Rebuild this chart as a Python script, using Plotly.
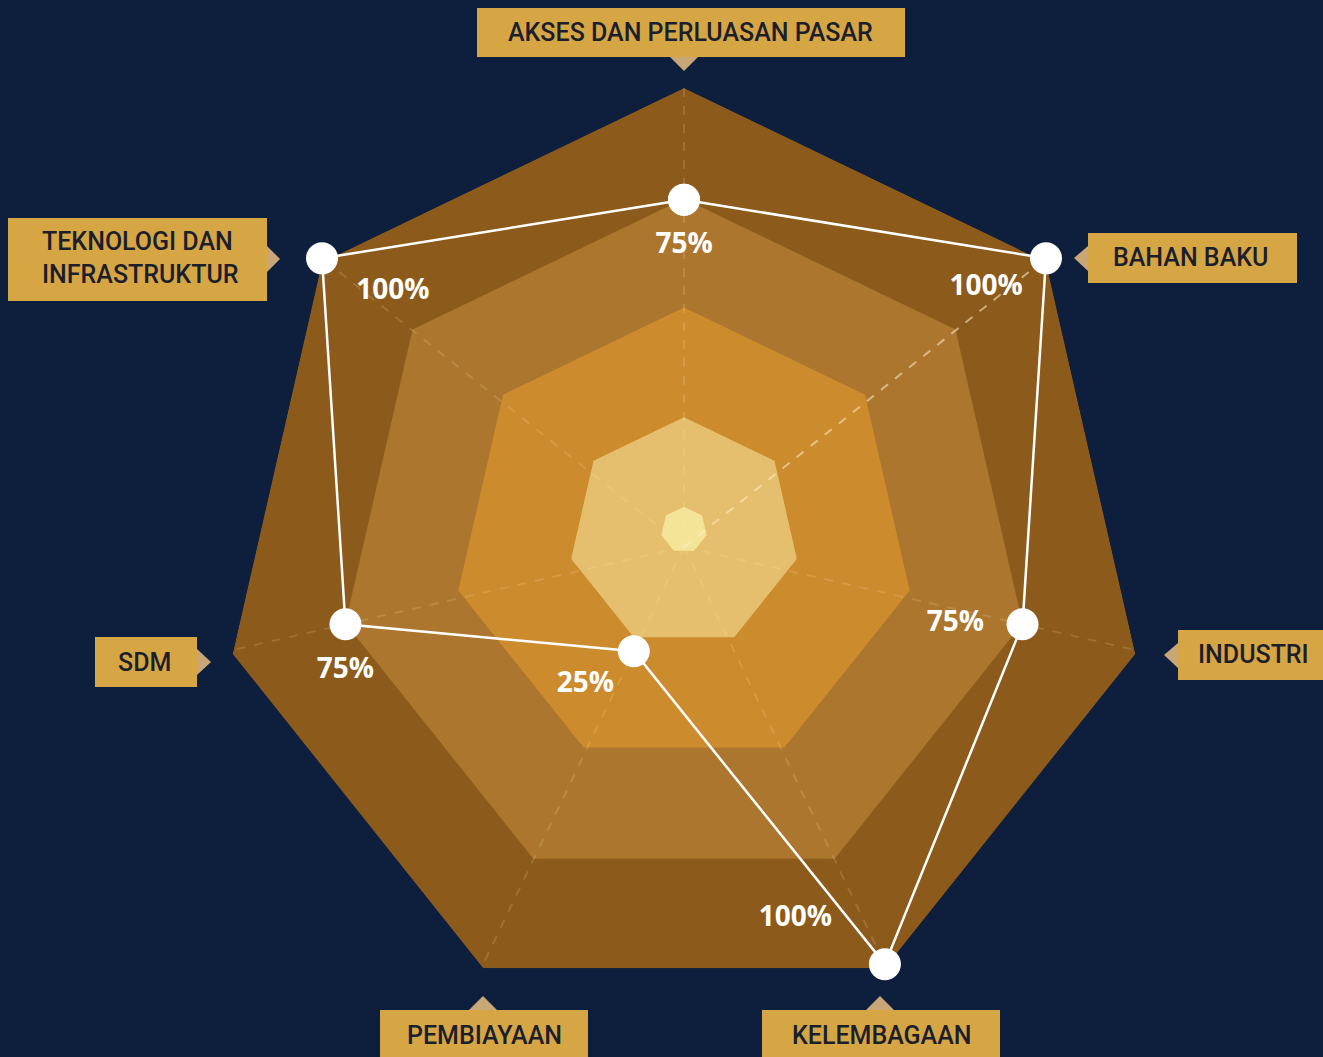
import plotly.graph_objects as go

W, H = 1323, 1057

# ---- data ----
categories = ["AKSES DAN PERLUASAN PASAR", "BAHAN BAKU", "INDUSTRI", "KELEMBAGAAN",
              "PEMBIAYAAN", "SDM", "TEKNOLOGI DAN INFRASTRUKTUR"]
values = [75, 100, 75, 100, 25, 75, 100]
value_labels = ["75%", "100%\u00a0", "75%", "100%\u00a0\u00a0\u00a0", "25%", "75%", "\u00a0\u00a0100%"]
band_levels = [100, 75, 50, 25, 5]
band_colors = ["#8C5A1A", "#AC762F", "#CC8B2D", "#E6BF6E", "#F4E497"]
band_centers_px = [551, 546, 539, 533, 530]   # ring centres drift upward in the original
axis_labels = ["AKSES DAN PERLUASAN PASAR", "BAHAN BAKU", "INDUSTRI", "KELEMBAGAAN",
               "PEMBIAYAAN", "SDM", "TEKNOLOGI DAN<br>INFRASTRUKTUR"]
value_text_positions = ["bottom center", "bottom left", "middle left", "top left",
                        "bottom left", "bottom center", "bottom right"]
value_text_gap = [50, 24, 60, 48, 30, 50, 30]

BG = "#0E1E3D"
BOX = "#D6A644"
POINTER = "#C8A676"
TXT = "#1C1E2B"

def px(x):
    return x / W

def py(y):
    return 1 - y / H

fig = go.Figure()
closed_theta = categories + [categories[0]]

CX, R = 684, 463
DATA_CY = 547
polar_common = dict(
    bgcolor="rgba(0,0,0,0)",
    gridshape="linear",
    radialaxis=dict(visible=False, range=[0, 100]),
    angularaxis=dict(direction="clockwise", rotation=90, showticklabels=False,
                     showgrid=False, showline=False, ticks="",
                     categoryorder="array", categoryarray=categories),
)
layout_polars = {}

# background bands, one polar subplot each
for k, (lvl, col, cyk) in enumerate(zip(band_levels, band_colors, band_centers_px)):
    name = "polar" if k == 0 else f"polar{k + 1}"
    layout_polars[name] = dict(
        domain=dict(x=[px(CX - R), px(CX + R)], y=[py(cyk + R), py(cyk - R)]),
        **polar_common)
    fig.add_trace(go.Scatterpolar(
        r=[lvl] * len(closed_theta), theta=closed_theta, subplot=name,
        mode="lines", fill="toself", fillcolor=col,
        line=dict(width=0, color=col), hoverinfo="skip", showlegend=False))

# top subplot: spokes + data
top = f"polar{len(band_levels) + 1}"
layout_polars[top] = dict(
    domain=dict(x=[px(CX - R), px(CX + R)], y=[py(DATA_CY + R), py(DATA_CY - R)]),
    **polar_common)

for i, c in enumerate(categories):
    col = "rgba(255,238,200,0.55)" if i == 1 else "rgba(255,235,190,0.16)"
    fig.add_trace(go.Scatterpolar(
        r=[0, 100], theta=[c, c], mode="lines", subplot=top,
        line=dict(color=col, width=2, dash="dash"),
        hoverinfo="skip", showlegend=False))

fig.add_trace(go.Scatterpolar(
    r=values + [values[0]], theta=closed_theta, subplot=top,
    mode="lines+markers",
    line=dict(color="white", width=2.5),
    marker=dict(size=32, color="white", line=dict(width=0)),
    hoverinfo="skip", showlegend=False))

fig.add_trace(go.Scatterpolar(
    r=values, theta=categories, mode="markers+text", subplot=top,
    marker=dict(size=value_text_gap, color="rgba(0,0,0,0)",
                line=dict(width=0, color="rgba(0,0,0,0)")),
    text=value_labels, textposition=value_text_positions,
    textfont=dict(color="white", size=28, family="Open Sans", weight="bold"),
    hoverinfo="skip", showlegend=False))

# label boxes (pixel geometry)
boxes = [
    (477, 8, 905, 57), (1088, 233, 1297, 283), (1178, 630, 1335, 680),
    (762, 1010, 1000, 1070), (380, 1010, 588, 1070), (95, 637, 197, 687),
    (8, 218, 267, 301)]
pointers = [
    [(670, 57), (698, 57), (684, 71)],
    [(1088, 246), (1088, 271), (1074, 258)],
    [(1178, 643), (1178, 668), (1164, 655)],
    [(866, 1010), (894, 1010), (880, 996)],
    [(469, 1010), (497, 1010), (483, 996)],
    [(197, 649), (197, 675), (211, 662)],
    [(267, 246), (267, 272), (280, 259)]]
text_pos = [(690, 32, "center"), (1190, 258, "center"), (1253, 654, "center"),
            (882, 1035, "center"), (484, 1035, "center"), (144, 662, "center"),
            (40, 258, "left")]

shapes = []
for (x0, y0, x1, y1) in boxes:
    shapes.append(dict(type="rect", xref="paper", yref="paper",
                       x0=px(x0), x1=px(x1), y0=py(y1), y1=py(y0),
                       fillcolor=BOX, line=dict(width=0), layer="above"))
for tri in pointers:
    path = "M " + " L ".join(f"{px(x):.5f},{py(y):.5f}" for x, y in tri) + " Z"
    shapes.append(dict(type="path", xref="paper", yref="paper", path=path,
                       fillcolor=POINTER, line=dict(width=0), layer="above"))

annotations = []
for lab, (x, y, al) in zip(axis_labels, text_pos):
    annotations.append(dict(
        text=lab, xref="paper", yref="paper", x=px(x), y=py(y),
        xanchor="left" if al == "left" else "center", yanchor="middle",
        align=al, showarrow=False,
        font=dict(family="Roboto", size=25, color=TXT, weight=500)))

fig.update_layout(
    width=W, height=H, autosize=False,
    margin=dict(l=0, r=0, t=0, b=0),
    paper_bgcolor=BG, plot_bgcolor=BG,
    showlegend=False, hovermode=False,
    shapes=shapes, annotations=annotations,
    **layout_polars,
)

fig.write_html(
    "out.html",
    config={"displayModeBar": False, "staticPlot": True},
    post_script="document.body.style.margin='0';document.body.style.background='#0E1E3D';",
)
